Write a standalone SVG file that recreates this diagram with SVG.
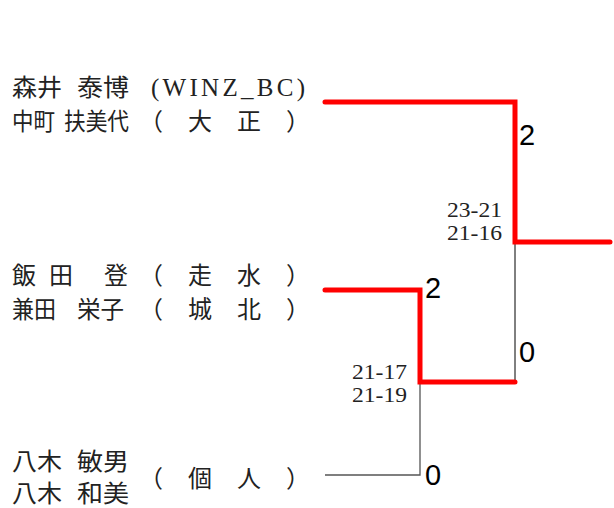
<svg xmlns="http://www.w3.org/2000/svg" width="614" height="508" viewBox="0 0 614 508">
<style>
.nm{font-family:"Noto Sans CJK JP","Noto Sans CJK SC",sans-serif;font-size:24px;fill:#222}
.lt{font-family:"Liberation Serif",serif;font-size:25px;fill:#222}
.sc{font-family:"Liberation Serif",serif;font-size:21px;fill:#222}
.pt{font-family:"Liberation Sans",Arial,sans-serif;font-size:29px;fill:#000}
.win{fill:none;stroke:#ff0000;stroke-width:5;stroke-linecap:round;stroke-linejoin:miter}
.lose{fill:none;stroke:#000;stroke-width:1}
.lose2{fill:none;stroke:#555;stroke-width:1.3}
</style>
<rect width="614" height="508" fill="#fff"/>
<g id="connectors">
<path class="lose" d="M515 242 V382"/>
<path class="lose2" d="M325 475 H420 V382"/>
<path class="win" d="M325 102 H515 V242 H610"/>
<path class="win" d="M325 290 H420 V382 H515"/>
</g>
<g id="node-morii">
<text class="nm" x="12" y="96" textLength="50" lengthAdjust="spacingAndGlyphs">森井</text>
<text class="nm" x="77" y="96" textLength="52" lengthAdjust="spacingAndGlyphs">泰博</text>
<text class="lt" x="151" y="96" textLength="154" lengthAdjust="spacing">(WINZ_BC)</text>
<text class="nm" x="12" y="130" textLength="43" lengthAdjust="spacingAndGlyphs">中町</text>
<text class="nm" x="64" y="130" textLength="65" lengthAdjust="spacingAndGlyphs">扶美代</text>
<text class="nm" x="139" y="130" textLength="171" lengthAdjust="spacing">（　大　正　）</text>
</g>
<g id="node-iida">
<text class="nm" x="12" y="284">飯</text>
<text class="nm" x="49" y="284">田</text>
<text class="nm" x="104" y="284">登</text>
<text class="nm" x="139" y="284" textLength="171" lengthAdjust="spacing">（　走　水　）</text>
<text class="nm" x="12" y="318" textLength="44" lengthAdjust="spacingAndGlyphs">兼田</text>
<text class="nm" x="77" y="318" textLength="47" lengthAdjust="spacingAndGlyphs">栄子</text>
<text class="nm" x="139" y="318" textLength="171" lengthAdjust="spacing">（　城　北　）</text>
</g>
<g id="node-yagi">
<text class="nm" x="12" y="470" textLength="50" lengthAdjust="spacingAndGlyphs">八木</text>
<text class="nm" x="77" y="470" textLength="52" lengthAdjust="spacingAndGlyphs">敏男</text>
<text class="nm" x="12" y="502" textLength="50" lengthAdjust="spacingAndGlyphs">八木</text>
<text class="nm" x="77" y="502" textLength="52" lengthAdjust="spacingAndGlyphs">和美</text>
<text class="nm" x="139" y="487" textLength="171" lengthAdjust="spacing">（　個　人　）</text>
</g>
<g id="scores">
<text class="pt" x="519" y="145">2</text>
<text class="pt" x="425" y="298">2</text>
<text class="pt" x="519" y="362">0</text>
<text class="pt" x="425" y="485">0</text>
<text class="sc" x="447" y="217" textLength="55" lengthAdjust="spacingAndGlyphs">23-21</text>
<text class="sc" x="447" y="240" textLength="55" lengthAdjust="spacingAndGlyphs">21-16</text>
<text class="sc" x="352" y="379" textLength="55" lengthAdjust="spacingAndGlyphs">21-17</text>
<text class="sc" x="352" y="402" textLength="55" lengthAdjust="spacingAndGlyphs">21-19</text>
</g>
</svg>
